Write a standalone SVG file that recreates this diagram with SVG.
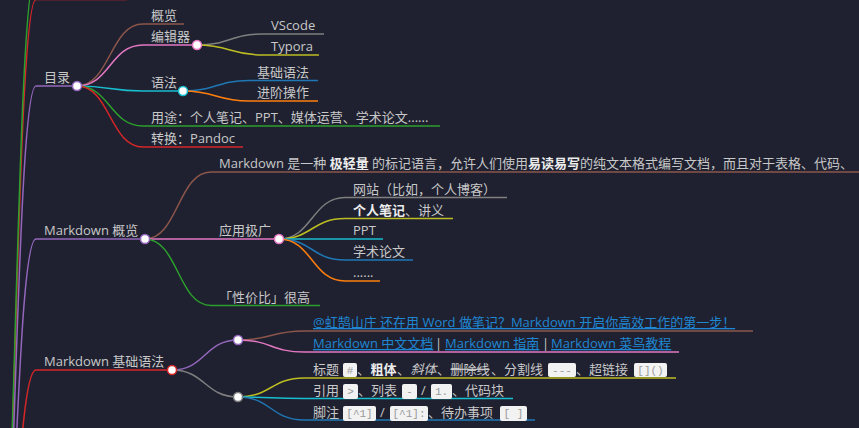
<svg xmlns="http://www.w3.org/2000/svg" width="859" height="428" viewBox="0 0 859 428">
<style>
.t{font-family:"Open Sans","Noto Sans CJK SC",sans-serif;font-size:13px;fill:#c8c8c8}
.b{font-weight:bold;fill:#ececec}
.lk{fill:#1f86d2;text-decoration:underline}
.ln{fill:none;stroke-width:1.5}
.c{fill:#ffffff;stroke-width:1.5}
.cb{fill:#f2f2f2}
.ct{font-family:"Liberation Mono","DejaVu Sans Mono",monospace;font-size:11px;fill:#9a9a9a;text-anchor:middle}
.purple{stroke:#9467bd}.brown{stroke:#8c564b}.pink{stroke:#e377c2}.cyan{stroke:#17becf}.green{stroke:#2ca02c}.red{stroke:#d62728}.gray{stroke:#7f7f7f}.olive{stroke:#bcbd22}.blue{stroke:#1f77b4}.orange{stroke:#ff7f0e}
</style>
<rect width="859" height="428" fill="#1f2130"/>
<g id="connectors">
<path class="ln red" d="M-6,700 C15,700 15,-0.4 36,-0.4"/>
<path class="ln green" d="M-6,700 C15,700 15,-27 36,-27"/>
<path class="ln purple" d="M-6,700 C15,700 15,86 36,86"/>
<path class="ln purple" d="M-6,700 C15,700 15,239 36,239"/>
<path class="ln red" d="M-6,700 C15,700 15,370 36,370"/>
<path class="ln brown" d="M77,86 C110,86 110,24 143,24"/>
<path class="ln pink" d="M77,86 C110,86 110,45 143,45"/>
<path class="ln cyan" d="M77,86 C110,86 110,91 143,91"/>
<path class="ln green" d="M77,86 C110,86 110,126 143,126"/>
<path class="ln red" d="M77,86 C110,86 110,147 143,147"/>
<path class="ln gray" d="M197,45 C230,45 230,34 263,34"/>
<path class="ln olive" d="M197,45 C230,45 230,55 263,55"/>
<path class="ln blue" d="M183,91 C216,91 216,80.5 249,80.5"/>
<path class="ln orange" d="M183,91 C216,91 216,101 249,101"/>
<path class="ln brown" d="M145,239 C178,239 178,172 211,172"/>
<path class="ln pink" d="M145,239 C178,239 178,239 211,239"/>
<path class="ln green" d="M145,239 C178,239 178,305.5 211,305.5"/>
<path class="ln gray" d="M279,239 C312,239 312,197.5 345,197.5"/>
<path class="ln olive" d="M279,239 C312,239 312,218.5 345,218.5"/>
<path class="ln cyan" d="M279,239 C312,239 312,239 345,239"/>
<path class="ln blue" d="M279,239 C312,239 312,260 345,260"/>
<path class="ln orange" d="M279,239 C312,239 312,281 345,281"/>
<path class="ln purple" d="M172,370 C205,370 205,340 238,340"/>
<path class="ln gray" d="M172,370 C205,370 205,397 238,397"/>
<path class="ln brown" d="M238,340 C271,340 271,331 304,331"/>
<path class="ln pink" d="M238,340 C271,340 271,352 304,352"/>
<path class="ln olive" d="M238,397 C271,397 271,378 304,378"/>
<path class="ln cyan" d="M238,397 C271,397 271,398.5 304,398.5"/>
<path class="ln blue" d="M238,397 C271,397 271,420 304,420"/>
</g>
<g id="n-top-red"><path class="ln red" d="M36,-0.4 H127"/></g>
<g id="n-top-green"><path class="ln green" d="M36,-27 H127"/></g>
<g id="n-mulu"><path class="ln purple" d="M36,86 H77"/><text class="t" x="44" y="82">目录</text></g>
<g id="n-gailan"><path class="ln brown" d="M143,24 H184"/><text class="t" x="151" y="20">概览</text></g>
<g id="n-bianjiqi"><path class="ln pink" d="M143,45 H197"/><text class="t" x="151" y="41">编辑器</text></g>
<g id="n-vscode"><path class="ln gray" d="M263,34 H324"/><text class="t" x="271" y="30">VScode</text></g>
<g id="n-typora"><path class="ln olive" d="M263,55 H319"/><text class="t" x="271" y="51">Typora</text></g>
<g id="n-yufa"><path class="ln cyan" d="M143,91 H183"/><text class="t" x="151" y="87">语法</text></g>
<g id="n-jichu"><path class="ln blue" d="M249,80.5 H318"/><text class="t" x="257" y="76.5">基础语法</text></g>
<g id="n-jinjie"><path class="ln orange" d="M249,101 H318"/><text class="t" x="257" y="97">进阶操作</text></g>
<g id="n-yongtu"><path class="ln green" d="M143,126 H440"/><text class="t" x="151" y="122">用途：个人笔记、PPT、媒体运营、学术论文......</text></g>
<g id="n-zhuanhuan"><path class="ln red" d="M143,147 H243"/><text class="t" x="151" y="143">转换：Pandoc</text></g>
<g id="n-md-gailan"><path class="ln purple" d="M36,239 H145"/><text class="t" x="44" y="235">Markdown 概览</text></g>
<g id="n-intro"><path class="ln brown" d="M211,172 H860"/><text class="t" x="219" y="168">Markdown 是一种 <tspan class="b">极轻量</tspan> 的标记语言，允许人们使用<tspan class="b">易读易写</tspan>的纯文本格式编写文档，而且对于表格、代码、</text></g>
<g id="n-yingyong"><path class="ln pink" d="M211,239 H279"/><text class="t" x="219" y="235">应用极广</text></g>
<g id="n-wangzhan"><path class="ln gray" d="M345,197.5 H507"/><text class="t" x="353" y="193.5">网站（比如，个人博客）</text></g>
<g id="n-biji"><path class="ln olive" d="M345,218.5 H453"/><text class="t" x="353" y="214.5"><tspan class="b">个人笔记</tspan>、讲义</text></g>
<g id="n-ppt"><path class="ln cyan" d="M345,239 H383"/><text class="t" x="353" y="235">PPT</text></g>
<g id="n-xueshu"><path class="ln blue" d="M345,260 H413"/><text class="t" x="353" y="256">学术论文</text></g>
<g id="n-etc"><path class="ln orange" d="M345,281 H380"/><text class="t" x="353" y="277">......</text></g>
<g id="n-xingjiabi"><path class="ln green" d="M211,305.5 H320"/><text class="t" x="219" y="301.5">「性价比」很高</text></g>
<g id="n-md-jichu"><path class="ln red" d="M36,370 H172"/><text class="t" x="44" y="366">Markdown 基础语法</text></g>
<g id="n-links-a"><path class="ln brown" d="M304,331 H753"/><text class="t lk" x="313" y="327">@虹鹄山庄 还在用 Word 做笔记？Markdown 开启你高效工作的第一步！</text></g>
<g id="n-links-b"><path class="ln pink" d="M304,352 H679"/>
<text class="t lk" x="313" y="348">Markdown 中文文档</text><text class="t" x="435" y="348">|</text>
<text class="t lk" x="445" y="348">Markdown 指南</text><text class="t" x="542" y="348">|</text>
<text class="t lk" x="551" y="348">Markdown 菜鸟教程</text></g>
<g id="n-biaoti"><path class="ln olive" d="M304,378 H676"/>
<text class="t" x="313" y="374">标题</text>
<rect class="cb" x="343" y="363" width="14" height="14" rx="2"/><text class="ct" x="350" y="374">#</text>
<text class="t" y="374"><tspan x="357">、</tspan><tspan x="370.5" class="b">粗体</tspan><tspan x="397">、</tspan><tspan x="410.5" font-style="italic">斜体</tspan><tspan x="437">、</tspan><tspan x="450.5" text-decoration="line-through">删除线</tspan><tspan x="491">、分割线</tspan></text>
<rect class="cb" x="548" y="363" width="28" height="14" rx="2"/><text class="ct" x="562" y="374">---</text>
<text class="t" x="576" y="374">、超链接</text>
<rect class="cb" x="634" y="363" width="33" height="14" rx="2"/><text class="ct" x="650.5" y="374">[]()</text>
</g>
<g id="n-yinyong"><path class="ln cyan" d="M304,398.5 H513"/>
<text class="t" x="313" y="395">引用</text>
<rect class="cb" x="343" y="384" width="15" height="15" rx="2"/><text class="ct" x="350.5" y="395">&gt;</text>
<text class="t" x="358" y="395">、列表</text>
<rect class="cb" x="402" y="384" width="15" height="15" rx="2"/><text class="ct" x="409.5" y="395">-</text>
<text class="t" x="421" y="395">/</text>
<rect class="cb" x="431" y="384" width="21" height="15" rx="2"/><text class="ct" x="441.5" y="395">1.</text>
<text class="t" x="452" y="395">、代码块</text>
</g>
<g id="n-jiaozhu"><path class="ln blue" d="M304,420 H535"/>
<text class="t" x="313" y="417">脚注</text>
<rect class="cb" x="343" y="406" width="33" height="15" rx="2"/><text class="ct" x="359.5" y="417">[^1]</text>
<text class="t" x="380" y="417">/</text>
<rect class="cb" x="390" y="406" width="38" height="15" rx="2"/><text class="ct" x="409" y="417">[^1]:</text>
<text class="t" x="428" y="417">、待办事项</text>
<rect class="cb" x="500" y="406" width="27" height="15" rx="2"/><text class="ct" x="513.5" y="417">[ ]</text>
</g>
<g id="n-unnamed-1"><circle class="c purple" cx="238" cy="340" r="4.5"/></g>
<g id="n-unnamed-2"><circle class="c gray" cx="238" cy="397" r="4.5"/></g>
<g id="circles">
<circle class="c purple" cx="77" cy="86" r="4.5"/>
<circle class="c pink" cx="197" cy="45" r="4.5"/>
<circle class="c cyan" cx="183" cy="91" r="4.5"/>
<circle class="c purple" cx="145" cy="239" r="4.5"/>
<circle class="c pink" cx="279" cy="239" r="4.5"/>
<circle class="c red" cx="172" cy="370" r="4.5"/>
</g>
</svg>
